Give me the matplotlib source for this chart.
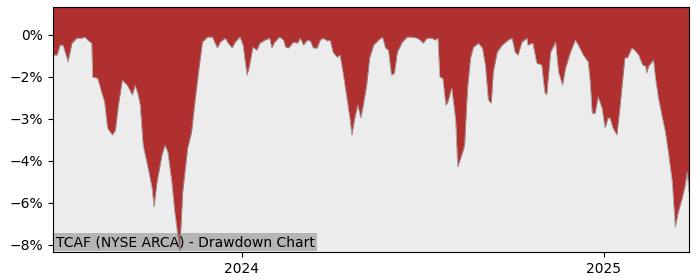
import matplotlib
matplotlib.use("Agg")
import matplotlib.pyplot as plt
import matplotlib.dates as mdates
from matplotlib.ticker import PercentFormatter, FixedLocator
import pandas as pd

dates = [
    "2023-06-24", "2023-06-28", "2023-07-01", "2023-07-04", "2023-07-08", "2023-07-09",
    "2023-07-13", "2023-07-18", "2023-07-23", "2023-07-26", "2023-07-29", "2023-08-02",
    "2023-08-03", "2023-08-08", "2023-08-12", "2023-08-15", "2023-08-18", "2023-08-23",
    "2023-08-26", "2023-08-29", "2023-09-02", "2023-09-07", "2023-09-12", "2023-09-15",
    "2023-09-18", "2023-09-20", "2023-09-23", "2023-09-28", "2023-10-02", "2023-10-04",
    "2023-10-07", "2023-10-12", "2023-10-15", "2023-10-18", "2023-10-22", "2023-10-25",
    "2023-10-28", "2023-10-30", "2023-11-02", "2023-11-07", "2023-11-11", "2023-11-14",
    "2023-11-18", "2023-11-22", "2023-11-27", "2023-12-02", "2023-12-07", "2023-12-10",
    "2023-12-15", "2023-12-18", "2023-12-22", "2023-12-25", "2023-12-30", "2024-01-02",
    "2024-01-06", "2024-01-08", "2024-01-12", "2024-01-16", "2024-01-19", "2024-01-24",
    "2024-01-29", "2024-01-31", "2024-02-03", "2024-02-08", "2024-02-12", "2024-02-14",
    "2024-02-17", "2024-02-21", "2024-02-22", "2024-02-26", "2024-02-29", "2024-03-03",
    "2024-03-07", "2024-03-10", "2024-03-13", "2024-03-17", "2024-03-20", "2024-03-23",
    "2024-03-27", "2024-03-30", "2024-04-02", "2024-04-06", "2024-04-09", "2024-04-12",
    "2024-04-16", "2024-04-19", "2024-04-21", "2024-04-24", "2024-04-27", "2024-04-30",
    "2024-05-02", "2024-05-06", "2024-05-09", "2024-05-13", "2024-05-18", "2024-05-22",
    "2024-05-25", "2024-05-28", "2024-05-31", "2024-06-03", "2024-06-06", "2024-06-11",
    "2024-06-16", "2024-06-21", "2024-06-26", "2024-06-29", "2024-07-02", "2024-07-06",
    "2024-07-11", "2024-07-14", "2024-07-17", "2024-07-19", "2024-07-22", "2024-07-25",
    "2024-07-27", "2024-07-31", "2024-08-04", "2024-08-06", "2024-08-11", "2024-08-13",
    "2024-08-16", "2024-08-19", "2024-08-22", "2024-08-27", "2024-08-31", "2024-09-03",
    "2024-09-06", "2024-09-09", "2024-09-11", "2024-09-15", "2024-09-20", "2024-09-26",
    "2024-09-30", "2024-10-03", "2024-10-06", "2024-10-10", "2024-10-15", "2024-10-16",
    "2024-10-20", "2024-10-21", "2024-10-25", "2024-10-30", "2024-11-02", "2024-11-04",
    "2024-11-08", "2024-11-13", "2024-11-16", "2024-11-20", "2024-11-23", "2024-11-28",
    "2024-12-03", "2024-12-06", "2024-12-11", "2024-12-16", "2024-12-18", "2024-12-20",
    "2024-12-23", "2024-12-26", "2024-12-30", "2025-01-02", "2025-01-05", "2025-01-07",
    "2025-01-10", "2025-01-14", "2025-01-17", "2025-01-22", "2025-01-25", "2025-01-29",
    "2025-02-01", "2025-02-05", "2025-02-09", "2025-02-12", "2025-02-13", "2025-02-15",
    "2025-02-20", "2025-02-22", "2025-02-25", "2025-03-01", "2025-03-04", "2025-03-07",
    "2025-03-11", "2025-03-14", "2025-03-17", "2025-03-21", "2025-03-24", "2025-03-26",
    "2025-03-28",
]

drawdown_pct = [
    -0.71, -0.71, -0.36, -0.36, -0.82, -0.96,
    -0.29, -0.11, -0.11, -0.07, -0.18, -0.29,
    -1.50, -1.54, -2.04, -2.39, -3.32, -3.57,
    -3.39, -2.50, -1.61, -1.79, -2.14, -1.79,
    -2.14, -2.50, -3.93, -4.75, -5.46, -6.14,
    -5.25, -4.29, -3.93, -4.18, -5.25, -6.32,
    -7.14, -7.75, -5.61, -4.04, -3.46, -2.50,
    -1.32, -0.25, -0.07, -0.07, -0.46, -0.25,
    -0.11, -0.29, -0.46, -0.25, -0.07, -0.36,
    -1.43, -1.18, -0.43, -0.54, -0.29, -0.18,
    -0.11, -0.46, -0.25, -0.07, -0.18, -0.43,
    -0.46, -0.29, -0.25, -0.29, -0.11, -0.36,
    -0.18, -0.21, -0.46, -0.46, -0.18, -0.11,
    -0.21, -0.18, -0.61, -0.79, -0.71, -1.32,
    -2.25, -2.96, -3.57, -2.96, -2.50, -2.96,
    -2.61, -1.79, -0.82, -0.36, -0.18, -0.07,
    -0.46, -0.54, -1.43, -1.36, -0.61, -0.25,
    -0.07, -0.07, -0.11, -0.18, -0.29, -0.11,
    -0.11, -0.18, -0.11, -1.50, -1.54, -2.50,
    -2.39, -1.89, -3.04, -4.71, -4.18, -3.93,
    -1.89, -0.82, -0.43, -0.29, -0.46, -1.07,
    -2.32, -2.43, -1.32, -0.61, -0.36, -0.18,
    -0.11, -0.61, -0.71, -0.25, -0.11, -0.36,
    -0.29, -0.29, -1.00, -1.07, -2.04, -2.14,
    -0.61, -0.25, -1.32, -1.79, -1.18, -0.61,
    -0.18, -0.36, -0.71, -0.96, -1.68, -2.79,
    -2.79, -2.21, -2.61, -3.32, -2.96, -2.96,
    -3.32, -3.57, -2.61, -0.82, -0.79, -0.46,
    -0.54, -0.71, -1.07, -1.11, -1.36, -1.11,
    -0.89, -1.54, -2.25, -2.96, -3.46, -4.18,
    -5.25, -6.86, -6.32, -5.82, -5.36, -4.89,
    -5.64,
]

ytick_values = [0, -1.5, -3, -4.5, -6, -7.5]
chart_title = "TCAF (NYSE ARCA) - Drawdown Chart"

x = pd.to_datetime(dates)
RED = "#b03030"
BG = "#ececec"

fig = plt.figure(figsize=(7, 2.8), dpi=100)
ax = fig.add_axes([53 / 700, 1 - 252 / 280, 636 / 700, 245 / 280])
ax.set_facecolor(BG)

ytop = 1.0
ybot = min(drawdown_pct)
ax.fill_between(x, drawdown_pct, ytop, color=RED, linewidth=0)
ax.plot(x, drawdown_pct, color="#9a9a9a", linewidth=0.5)

ax.set_xlim(x[0], x[-1])
ax.set_ylim(ybot, ytop)
ax.yaxis.set_major_locator(FixedLocator(ytick_values))
ax.yaxis.set_major_formatter(PercentFormatter(decimals=0))
ax.xaxis.set_major_locator(mdates.YearLocator())
ax.xaxis.set_major_formatter(mdates.DateFormatter("%Y"))
ax.tick_params(labelsize=10)

ax.text(0.005, 0.012, chart_title, transform=ax.transAxes, fontsize=10,
        ha="left", va="bottom",
        bbox=dict(facecolor="grey", alpha=0.5, edgecolor="none", pad=1.5))

fig.savefig("out.png", dpi=100)
